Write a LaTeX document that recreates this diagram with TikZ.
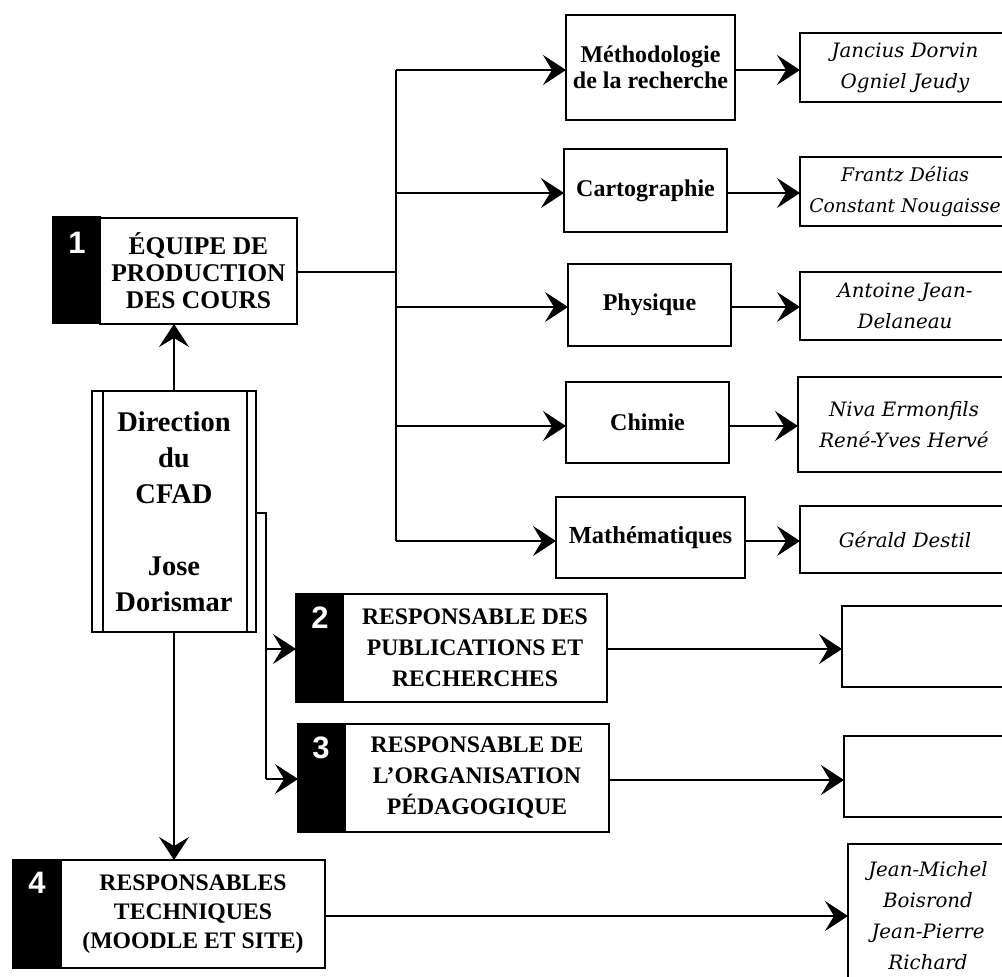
\documentclass[tikz,border=0pt]{standalone}
\usepackage{fontspec}
\setmainfont{Liberation Serif}
\newfontfamily\namefont{DejaVu Serif}
\newfontfamily\numfont{Liberation Sans}
\usetikzlibrary{arrows.meta}
\begin{document}
\begin{tikzpicture}[x=1pt,y=-1pt,
  every node/.style={inner sep=0pt,outer sep=0pt},
  box/.style={draw,line width=1.6pt,fill=white,align=center,font={\fontsize{24}{27}\selectfont\bfseries}},
  bigbox/.style={box,font={\fontsize{23.7}{31}\selectfont\bfseries}},
  namebox/.style={draw,line width=1.6pt,fill=white,align=center,font={\namefont\itshape\fontsize{19.8}{31}\selectfont}},
  numbar/.style={draw,line width=1.6pt,fill=black},
  numtxt/.style={text=white,font={\numfont\bfseries\fontsize{31}{31}\selectfont}},
  dirbox/.style={draw,line width=1.6pt,fill=white,align=center,font={\fontsize{28.5}{36}\selectfont\bfseries}},
  conn/.style={line width=1.6pt},
  arr/.style={line width=1.6pt,-{Stealth[length=23pt,width=30pt,inset=9pt]}}]
\useasboundingbox (0,0) rectangle (1002,977);
\clip (0,0) rectangle (1002,977);
\fill[white] (0,0) rectangle (1002,977);

% numbered boxes
\node[numbar,minimum width=47pt,minimum height=106pt] (b1n) at (76.5,270) {};
\node[box,font={\fontsize{25.5}{27}\selectfont\bfseries},minimum width=197pt,minimum height=106pt] (b1) at (198.5,271) {ÉQUIPE DE\\PRODUCTION\\DES COURS};
\node[numtxt] (b1t) at (77,243) {1};

\node[numbar,minimum width=47pt,minimum height=108pt] (b2n) at (319.5,648) {};
\node[bigbox,minimum width=264pt,minimum height=108pt] (b2) at (475,648) {RESPONSABLE DES\\PUBLICATIONS ET\\RECHERCHES};
\node[numtxt] (b2t) at (320,618) {2};

\node[numbar,minimum width=47pt,minimum height=108pt] (b3n) at (321.5,778) {};
\node[bigbox,minimum width=264pt,minimum height=108pt] (b3) at (477,778) {RESPONSABLE DE\\L'ORGANISATION\\PÉDAGOGIQUE};
\node[numtxt] (b3t) at (321,748) {3};

\node[numbar,minimum width=48pt,minimum height=108pt] (b4n) at (37,914) {};
\node[box,font={\fontsize{23.7}{29}\selectfont\bfseries},minimum width=264pt,minimum height=108pt] (b4) at (193,914) {RESPONSABLES\\TECHNIQUES\\(MOODLE ET SITE)};
\node[numtxt] (b4t) at (37,883) {4};

% direction box
\node[dirbox,minimum width=164pt,minimum height=241pt] (dir) at (174,511.5) {Direction\\du\\CFAD\\[36pt]Jose\\Dorismar};
\draw[line width=1.6pt] (103,391) -- (103,632) (247,391) -- (247,632);

% subjects
\node[box,minimum width=169pt,minimum height=105pt,font={\fontsize{24}{26}\selectfont\bfseries}] (m1) at (650.5,67.5) {Méthodologie\\de la recherche};
\node[box,minimum width=163pt,minimum height=83pt] (m2) at (645.5,190.5) {Cartographie};
\node[box,minimum width=163pt,minimum height=82pt] (m3) at (649.5,305) {Physique};
\node[box,minimum width=163pt,minimum height=81pt] (m4) at (647.5,422.5) {Chimie};
\node[box,font={\fontsize{24.5}{27}\selectfont\bfseries},minimum width=189pt,minimum height=81pt] (m5) at (650.5,537.5) {Mathématiques};

% names
\node[namebox,minimum width=210pt,minimum height=69pt] (n1) at (905,67.5) {Jancius Dorvin\\Ogniel Jeudy};
\node[namebox,font={\namefont\itshape\fontsize{18.8}{31}\selectfont},minimum width=210pt,minimum height=69pt] (n2) at (905,191.5) {Frantz Délias\\Constant Nougaisse};
\node[namebox,minimum width=210pt,minimum height=68pt] (n3) at (905,306) {Antoine Jean-\\Delaneau};
\node[namebox,minimum width=212pt,minimum height=95pt] (n4) at (904,424.5) {Niva Ermonfils\\René-Yves Hervé};
\node[namebox,minimum width=210pt,minimum height=67pt] (n5) at (905,539.5) {Gérald Destil};
\node[namebox,minimum width=168pt,minimum height=81pt] (n6) at (926,646.5) {};
\node[namebox,minimum width=166pt,minimum height=81pt] (n7) at (927,776.5) {};
\node[namebox,minimum width=160pt,minimum height=144pt] (n8) at (928,916) {Jean-Michel\\Boisrond\\Jean-Pierre\\Richard};

% trunk
\coordinate (t0) at (396,272);
\coordinate (t1) at (396,70);
\coordinate (t2) at (396,193);
\coordinate (t3) at (396,307);
\coordinate (t4) at (396,426);
\coordinate (t5) at (396,541);
\draw[conn] (b1.east |- t0) -- (t0);
\draw[conn] (t1) -- (t5);
\draw[arr] (t1) -- (t1 -| m1.west);
\draw[arr] (t2) -- (t2 -| m2.west);
\draw[arr] (t3) -- (t3 -| m3.west);
\draw[arr] (t4) -- (t4 -| m4.west);
\draw[arr] (t5) -- (t5 -| m5.west);
\draw[arr] (m1.east |- t1) -- (n1.west |- t1);
\draw[arr] (m2.east |- t2) -- (n2.west |- t2);
\draw[arr] (m3.east |- t3) -- (n3.west |- t3);
\draw[arr] (m4.east |- t4) -- (n4.west |- t4);
\draw[arr] (m5.east |- t5) -- (n5.west |- t5);

% direction connectors
\draw[arr] (dir.north) -- (dir.north |- b1.south);
\draw[arr] (dir.south) -- (dir.south |- b4.north);
\coordinate (s0) at (266,513);
\coordinate (s2) at (266,649);
\coordinate (s3) at (266,779);
\draw[conn] (s0 -| dir.east) -- (s0) -- (s3);
\draw[arr] (s2) -- (s2 -| b2n.west);
\draw[arr] (s3) -- (s3 -| b3n.west);

% right links
\coordinate (r2) at (700,649);
\coordinate (r3) at (700,780);
\coordinate (r4) at (600,916);
\draw[arr] (b2.east |- r2) -- (n6.west |- r2);
\draw[arr] (b3.east |- r3) -- (n7.west |- r3);
\draw[arr] (b4.east |- r4) -- (n8.west |- r4);
\end{tikzpicture}
\end{document}
